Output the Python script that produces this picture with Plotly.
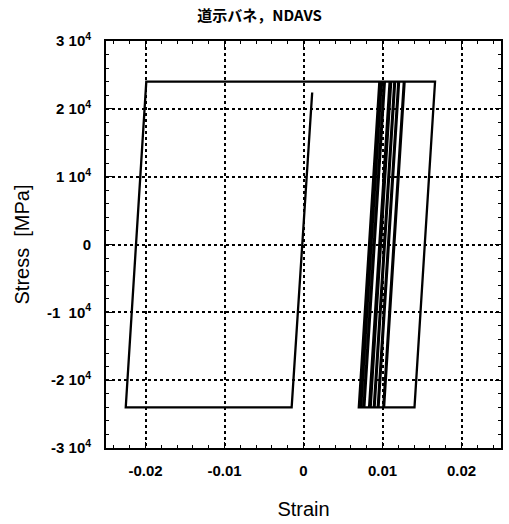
import plotly.graph_objects as go

# Turning points of the hysteresis path (strain, stress in MPa)
strain = [0.0011, -0.0015, -0.0225, -0.0199, 0.01665, 0.01405,
          0.0101, 0.0127, 0.0128, 0.0102,
          0.0094, 0.0120, 0.0121, 0.0095,
          0.0089, 0.0115, 0.0116, 0.0090,
          0.0083, 0.0109, 0.0111, 0.0085,
          0.0076, 0.0102, 0.0103, 0.0077,
          0.0072, 0.0098, 0.0099, 0.0073,
          0.0070, 0.0096]
stress = [22400, -24000, -24000, 24000, 24000, -24000,
          -24000, 24000, 24000, -24000,
          -24000, 24000, 24000, -24000,
          -24000, 24000, 24000, -24000,
          -24000, 24000, 24000, -24000,
          -24000, 24000, 24000, -24000,
          -24000, 24000, 24000, -24000,
          -24000, 24000]

x_tickvals = [-0.02, -0.01, 0, 0.01, 0.02]
x_ticktext = ["-0.02", "-0.01", "0", "0.01", "0.02"]
y_tickvals = [-30000, -20000, -10000, 0, 10000, 20000, 30000]
y_ticktext = ["-3 10<sup>4</sup>", "-2 10<sup>4</sup>", "-1  10<sup>4</sup>", "0",
              "1 10<sup>4</sup>", "2 10<sup>4</sup>", "3 10<sup>4</sup>"]

fig = go.Figure()
fig.add_trace(go.Scatter(x=strain, y=stress, mode="lines",
                         line=dict(color="black", width=2.3), showlegend=False))

font_fam = "Liberation Sans, Arial, sans-serif"
axis_common = dict(
    showline=True, linecolor="black", linewidth=1.8, mirror="ticks",
    ticks="inside", ticklen=6, tickwidth=1.4, tickcolor="black",
    showgrid=True, gridcolor="black", griddash="dot", gridwidth=1.5,
    zeroline=False,
    tickfont=dict(family=font_fam, size=15, color="black"),
)

fig.update_xaxes(range=[-0.025, 0.025], tickmode="array", tickvals=x_tickvals,
                 ticktext=["<b>%s</b>" % t for t in x_ticktext],
                 ticklabelstandoff=8,
                 minor=dict(tickmode="linear", tick0=0, dtick=0.002, ticks="inside",
                            ticklen=3, tickcolor="black", showgrid=False),
                 title=dict(text="Strain", font=dict(family=font_fam, size=20, color="black"),
                            standoff=24),
                 **axis_common)
fig.update_yaxes(range=[-30000, 30000], tickmode="array", tickvals=y_tickvals,
                 ticktext=["<b>%s</b>" % t for t in y_ticktext],
                 ticklabelstandoff=10,
                 minor=dict(tickmode="linear", tick0=0, dtick=2000, ticks="inside",
                            ticklen=3, tickcolor="black", showgrid=False),
                 title=dict(text="Stress  [MPa]", font=dict(family=font_fam, size=20, color="black"),
                            standoff=12),
                 **axis_common)

fig.update_layout(
    width=509, height=524,
    margin=dict(l=106, r=6, t=41, b=76),
    paper_bgcolor="white", plot_bgcolor="white",
    title=dict(text="<b>道示バネ，NDAVS</b>", x=0.51, xanchor="center", y=0.97, yanchor="middle",
               font=dict(family="Noto Sans CJK JP, Liberation Sans", size=15, color="black")),
)

fig.write_html("out.html")
